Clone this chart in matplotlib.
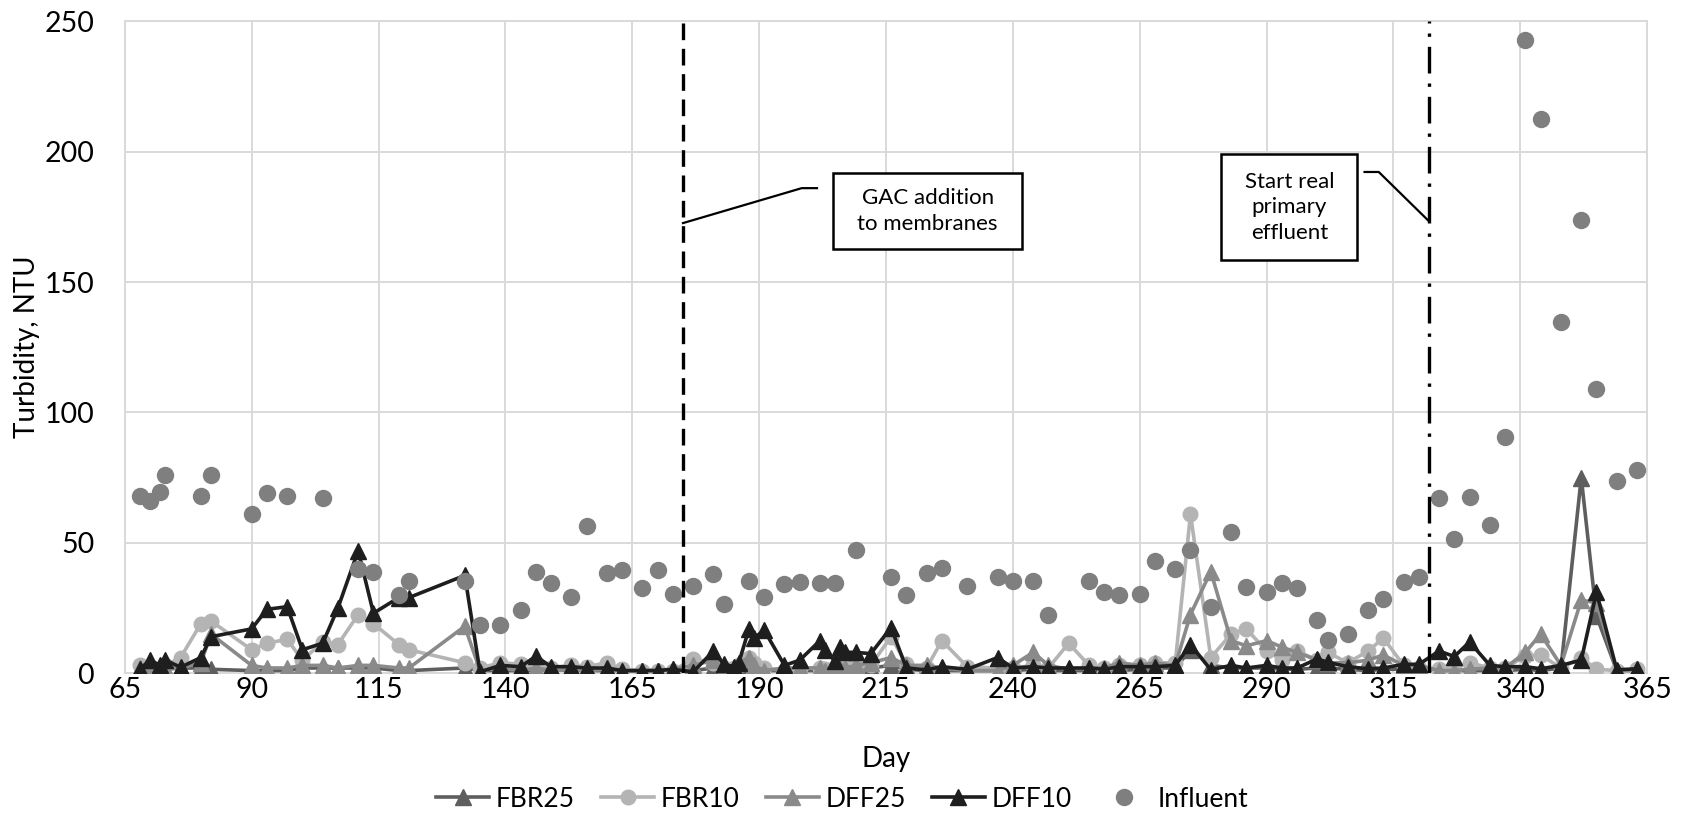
import matplotlib
matplotlib.use("Agg")
import matplotlib.pyplot as plt
from matplotlib.lines import Line2D
from matplotlib.patches import Rectangle

plt.rcParams['font.family'] = ['Lato', 'DejaVu Sans']

days_eff = [68, 70, 72, 73, 76, 80, 82, 90, 93, 97, 100, 104, 107, 111, 114, 119, 121, 132, 135, 139,
            143, 146, 149, 153, 156, 160, 163, 167, 170, 173, 177, 181, 183, 185, 186, 188, 189, 191, 195, 198,
            202, 203, 205, 206, 207, 209, 212, 216, 219, 223, 226, 231, 237, 240, 244, 247, 251, 255, 258, 261,
            265, 268, 272, 275, 279, 283, 286, 290, 293, 296, 300, 302, 306, 310, 313, 317, 320, 324, 327, 330,
            334, 337, 341, 344, 348, 352, 355, 359, 363]

fbr25 = [1, 1, 1, 1.5, 2, 2, 1.5, 1, 1, 1, 2, 2, 2, 2, 2, 1, 1, 2, 1, 1,
         1, 1, 1.5, 1, 1, 1, 1, 1, 1, 1, 1, 2, 1, 1, 1, 2, 1.5, 1, 1, 1,
         1, 1, 1, 1.5, 1.5, 2, 2, 3, 1.5, 1, 1, 1, 1, 1, 1.5, 1, 1, 1, 1, 1,
         1.5, 2, 2, 9, 3, 2, 2, 2, 1.5, 1.5, 2, 2, 1.5, 1, 1.5, 1.5, 1.5, 1, 1, 1,
         1, 1, 1.5, 1, 2, 75, 22, 1, 1]

fbr10 = [3, 2, 0.5, 3, 6, 19, 20, 9, 11.5, 13, 5, 12, 11, 22.5, 19, 11, 9, 4, 2, 4,
         3.5, 3, 2, 3, 2.5, 4, 1.5, 1, 1, 1, 5.5, 4, 2, 2, 3, 6, 4, 2, 1, 2,
         2, 1.5, 2, 2, 3, 3, 3, 14, 3.5, 2, 12.5, 2.5, 2, 2, 3, 2, 11.5, 3, 2, 3,
         3, 4, 4, 61, 6, 15, 17, 8.5, 5, 8.5, 5, 8, 4, 8.5, 13.5, 3, 2, 1.5, 2, 4,
         2, 2, 6.5, 7, 2, 6, 1.5, 1, 1.5]

dff25 = [2, 2, 2, 2, 2, 4, 15, 3, 2, 2, 3, 3, 2, 3, 3, 2, 2, 18, 1, 2,
         1, 2, 1, 1.5, 1, 1.5, 1, 1, 1, 1.5, 3, 5, 1, 2, 4, 6, 3, 1, 2, 2,
         2, 1, 1, 2, 2, 3, 4, 6, 3, 3, 2, 1, 1, 3, 8, 3, 1.5, 2, 2, 4,
         3, 4, 3, 22.5, 39, 12.5, 10.5, 12.5, 10, 8, 5, 4, 4, 5, 7, 3, 3, 1, 1, 1.5,
         2, 2, 8, 15, 3, 28, 27, 1, 1.5]

dff10 = [1.7, 5, 3, 5, 2.3, 6, 14, 17, 24.5, 25.5, 9, 11.5, 25, 47, 23, 29, 29, 37.5, 0.5, 3,
         2.5, 6.5, 2.5, 2.5, 2, 2, 1, 1, 1, 1.5, 0.5, 8.5, 3.5, 2.5, 4, 17, 13.5, 16.5, 3, 5,
         12.5, 9, 4.5, 10, 8, 8, 7.5, 17.5, 2, 1.3, 2.5, 1.5, 6, 2, 2.5, 2, 2, 2, 1.5, 2.5,
         2.5, 2.5, 3, 11, 1.3, 3, 2, 3, 2, 2, 5.5, 4.2, 2.5, 1.7, 2, 3.4, 3.4, 8.5, 6.4, 12,
         3, 2.5, 2.5, 1.7, 3, 5, 31, 1.3, 1.7]

days_inf = [68, 70, 72, 73, 80, 82, 90, 93, 97, 104, 111, 114, 119, 121, 132, 135, 139, 143, 146, 149,
            153, 156, 160, 163, 167, 170, 173, 177, 181, 183, 188, 191, 195, 198, 202, 205, 209, 216, 219, 223,
            226, 231, 237, 240, 244, 247, 255, 258, 261, 265, 268, 272, 275, 279, 283, 286, 290, 293, 296, 300,
            302, 306, 310, 313, 317, 320, 324, 327, 330, 334, 337, 341, 344, 348, 352, 355, 359, 363]
influent = [68, 66, 69.5, 76, 68, 76, 61, 69, 68, 67, 40, 39, 30, 35.5, 35.3, 18.3, 18.6, 24.4, 39, 34.4,
            29.2, 56.4, 38.5, 39.5, 32.5, 39.5, 30.5, 33.6, 38.2, 26.4, 35.3, 29.2, 34.1, 35, 34.6, 34.6, 47.2, 36.7, 30.1, 38.5,
            40.4, 33.3, 36.7, 35.2, 35.2, 22.3, 35.2, 31, 30, 30.5, 43, 39.8, 47.2, 25.2, 54.2, 33, 31.2, 34.4, 32.5, 20.5,
            12.6, 15.2, 24.4, 28.6, 35, 37, 67.3, 51.3, 67.7, 56.9, 90.4, 242.8, 212.6, 134.8, 173.7, 109, 73.7, 78]

gac_day = 175
pe_day = 322
x_ticks = list(range(65, 366, 25))
y_ticks = list(range(0, 251, 50))

c_fbr25 = '#5e5e5e'
c_fbr10 = '#b4b4b4'
c_dff25 = '#8a8a8a'
c_dff10 = '#1e1e1e'
c_inf = '#7f7f7f'

fig = plt.figure(figsize=(16.86, 8.17), dpi=100)
ax = fig.add_axes([0.074, 0.176, 0.903, 0.798])

lw = 2.6
ms_t = 11
ax.plot(days_eff, fbr25, color=c_fbr25, lw=lw, marker='^', ms=ms_t, zorder=3)
ax.plot(days_eff, fbr10, color=c_fbr10, lw=lw, marker='o', ms=10.5, zorder=4)
ax.plot(days_eff, dff25, color=c_dff25, lw=lw, marker='^', ms=ms_t, zorder=5)
ax.plot(days_eff, dff10, color=c_dff10, lw=lw, marker='^', ms=ms_t, zorder=6)
ax.plot(days_inf, influent, color=c_inf, lw=0, marker='o', ms=11.5, zorder=7)

ax.axvline(gac_day, color='black', lw=2.4, dashes=(5, 2.6), zorder=8)
ax.axvline(pe_day, color='black', lw=2.4, dashes=(8, 3, 1, 3), zorder=8)

ax.set_xlim(65, 365)
ax.set_ylim(0, 250)
ax.set_xticks(x_ticks)
ax.set_yticks(y_ticks)
ax.grid(True, color='#d9d9d9', lw=1.4, zorder=0)
ax.set_axisbelow(True)
for s in ax.spines.values():
    s.set_color('#d9d9d9')
    s.set_linewidth(1.4)
ax.tick_params(axis='x', length=0, labelsize=20.5, pad=3, colors='black')
ax.tick_params(axis='y', length=0, labelsize=20.5, pad=22, colors='black')
ax.set_xlabel('Day', fontsize=20)
ax.set_ylabel('Turbidity, NTU', fontsize=20)
ax.xaxis.set_label_coords(0.5, -0.112)
ax.yaxis.set_label_coords(-0.056, 0.5)

# annotation boxes and leader lines (data coordinates)
def box(x0, x1, y0, y1, text):
    ax.add_patch(Rectangle((x0, y0), x1 - x0, y1 - y0, fc='white', ec='black', lw=1.8,
                           zorder=9, clip_on=False))
    ax.text((x0 + x1) / 2, (y0 + y1) / 2, text, ha='center', va='center', fontsize=16,
            zorder=10, linespacing=1.35)

box(204.6, 241.8, 162.6, 191.8, 'GAC addition\nto membranes')
ax.plot([gac_day, 198.4, 201.4], [172.6, 186, 186], color='black', lw=1.6, zorder=9)

box(281.1, 307.9, 158.3, 199.1, 'Start real\nprimary\neffluent')
ax.plot([309.3, 312.1, pe_day], [192.2, 192.2, 173.3], color='black', lw=1.6, zorder=9)

handles = [
    Line2D([], [], color=c_fbr25, lw=lw, marker='^', ms=ms_t),
    Line2D([], [], color=c_fbr10, lw=lw, marker='o', ms=10.5),
    Line2D([], [], color=c_dff25, lw=lw, marker='^', ms=ms_t),
    Line2D([], [], color=c_dff10, lw=lw, marker='^', ms=ms_t),
    Line2D([], [], color=c_inf, lw=0, marker='o', ms=11.5),
]
fig.legend(handles, ['FBR25', 'FBR10', 'DFF25', 'DFF10', 'Influent'], loc='center',
           bbox_to_anchor=(0.4996, 0.022), ncol=5, frameon=False, fontsize=19,
           handlelength=2.0, columnspacing=1.0, handletextpad=0.25)

fig.savefig('out.png', dpi=100)
